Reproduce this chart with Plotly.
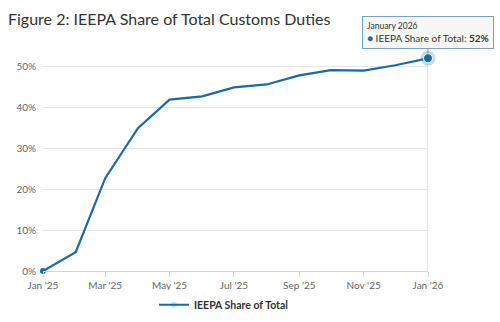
import plotly.graph_objects as go

months = ["2025-01-01", "2025-02-01", "2025-03-01", "2025-04-01", "2025-05-01", "2025-06-01",
          "2025-07-01", "2025-08-01", "2025-09-01", "2025-10-01", "2025-11-01", "2025-12-01",
          "2026-01-01"]
share = [0, 4.6, 22.7, 34.9, 41.9, 42.7, 44.9, 45.6, 47.8, 49.1, 49.0, 50.3, 52.0]
tick_vals = ["2025-01-01", "2025-03-01", "2025-05-01", "2025-07-01", "2025-09-01", "2025-11-01", "2026-01-01"]
tick_text = ["Jan '25", "Mar '25", "May '25", "Jul '25", "Sep '25", "Nov '25", "Jan '26"]
y_ticks = [0, 10, 20, 30, 40, 50]
y_tick_text = ["0%", "10%", "20%", "30%", "40%", "50%"]
series_name = "IEEPA Share of Total"
line_color = "#1b6aa8"

opac = [1] + [0] * (len(share) - 1)

fig = go.Figure()
fig.add_trace(go.Scatter(
    x=months, y=share, mode="lines+markers", name="<b>" + series_name + "</b>",
    line=dict(color=line_color, width=2.2),
    marker=dict(size=6, color=line_color, opacity=opac),
    cliponaxis=False, hoverinfo="skip",
))
# hover halo on last point
fig.add_trace(go.Scatter(
    x=[months[-1]], y=[share[-1]], mode="markers", showlegend=False,
    marker=dict(size=15, color="rgba(27,106,168,0.25)"), cliponaxis=False, hoverinfo="skip",
))
fig.add_trace(go.Scatter(
    x=[months[-1]], y=[share[-1]], mode="markers", showlegend=False,
    marker=dict(size=9, color=line_color, line=dict(color="white", width=1)),
    cliponaxis=False, hoverinfo="skip",
))

fig.add_shape(type="line", xref="x", yref="paper", x0=months[-1], x1=months[-1], y0=0, y1=1,
              line=dict(color="#cccccc", width=1), layer="below")

fig.add_annotation(
    xref="x", yref="y", x=months[-1], y=share[-1],
    text="<span style='font-size:8.5px'>January 2026</span><br>"
         "<span style='color:" + line_color + "'>●</span> " + series_name + ": <b>" + f"{share[-1]:.0f}%" + "</b>",
    showarrow=True, arrowhead=0, arrowwidth=1, arrowcolor="rgba(27,106,168,0.6)",
    ax=0, ay=-9, align="left", xanchor="center", yanchor="bottom",
    bgcolor="rgba(247,247,247,0.95)", bordercolor="rgba(27,106,168,0.6)", borderwidth=1, borderpad=4,
    font=dict(family="Lato, Open Sans, sans-serif", size=10, color="#333333"),
)

fig.update_layout(
    width=500, height=322,
    margin=dict(l=43, r=72, t=46, b=51, autoexpand=False),
    paper_bgcolor="white", plot_bgcolor="white",
    font=dict(family="Lato, Open Sans, sans-serif", color="#666666", size=10),
    title=dict(text="Figure 2: IEEPA Share of Total Customs Duties", x=0.016, xanchor="left",
               y=0.94, yanchor="middle",
               font=dict(family="Lato, Open Sans, sans-serif", size=16, color="#333333")),
    xaxis=dict(range=[months[0], months[-1]], tickvals=tick_vals, ticktext=tick_text,
               showgrid=False, showline=True, linecolor="#ccd6eb", linewidth=1,
               ticks="outside", ticklen=5, tickcolor="#ccd6eb", zeroline=False,
               ticklabelstandoff=0, automargin=False,
               tickfont=dict(size=10, color="#666666")),
    yaxis=dict(range=[0, 55], tickvals=y_ticks, ticktext=y_tick_text,
               showgrid=True, gridcolor="#e6e6e6", zeroline=False, showline=False,
               ticklabelstandoff=6, automargin=False,
               tickfont=dict(size=10, color="#666666")),
    legend=dict(orientation="h", x=0.47, xanchor="center", y=-0.15, yanchor="middle",
                itemwidth=30,
                font=dict(size=10.5, color="#333333", family="Lato, Open Sans, sans-serif")),
    showlegend=True,
)

fig.write_html("out.html")
